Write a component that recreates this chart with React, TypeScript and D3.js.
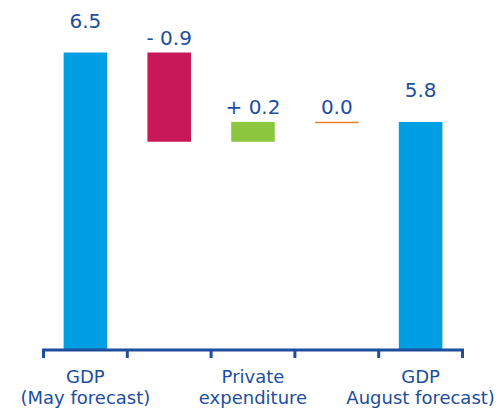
import React from "react";
import * as d3 from "d3";

const categories = ["c0", "c1", "c2", "c3", "c4"];
const categoryLabels: string[][] = [
  ["GDP", "(May forecast)"],
  [],
  ["Private", "expenditure"],
  [],
  ["GDP", "August forecast)"],
];
const values = [6.5, -0.9, 0.2, 0.0, 5.8];
const valueLabels = ["6.5", "- 0.9", "+ 0.2", "0.0", "5.8"];
const kinds = ["total", "delta", "delta", "delta", "total"];
const yDomain = [3.5, 6.5];

const W = 500;
const H = 414;
const BLUE = "#009FE3";
const RED = "#C8185A";
const GREEN = "#8CC63E";
const ORANGE = "#E8832A";
const TEXT = "#1C4E9C";
const AXIS = "#1F4E9E";

export default function App() {
  const x = d3.scaleBand<string>().domain(categories).range([43.5, 462.5]).padding(0);
  const y = d3.scaleLinear().domain(yDomain).range([350, 52.5]);
  const barW = x.bandwidth() * 0.52;

  let running = 0;
  const segs = values.map((v, i) => {
    if (kinds[i] === "total") {
      running = v;
      return { y0: yDomain[0], y1: v, v, i };
    }
    const start = running;
    running = start + v;
    return { y0: Math.min(start, running), y1: Math.max(start, running), v, i };
  });

  const fontFamily = "'DejaVu Sans', Verdana, sans-serif";

  return (
    <svg
      width={W}
      height={H}
      style={{ position: "absolute", left: 0, top: 0, background: "#fff" }}
    >
      {segs.map((s) => {
        const cx = (x(categories[s.i]) as number) + x.bandwidth() / 2;
        const top = y(s.y1);
        const bottom = y(s.y0);
        let fill = BLUE;
        if (kinds[s.i] === "delta") fill = s.v < 0 ? RED : GREEN;
        const labelOffset = kinds[s.i] === "total" ? 25 : 8;
        return (
          <g key={s.i}>
            {s.v === 0 && kinds[s.i] === "delta" ? (
              <line
                x1={cx - barW / 2}
                x2={cx + barW / 2}
                y1={top + 0.5}
                y2={top + 0.5}
                stroke={ORANGE}
                strokeWidth={1.5}
              />
            ) : (
              <rect x={cx - barW / 2} y={top} width={barW} height={bottom - top} fill={fill} />
            )}
            <text
              x={cx}
              y={top - labelOffset}
              textAnchor="middle"
              fontFamily={fontFamily}
              fontSize={20}
              fill={TEXT}
            >
              {valueLabels[s.i]}
            </text>
          </g>
        );
      })}

      <line x1={42} x2={464} y1={350} y2={350} stroke={AXIS} strokeWidth={3} />
      {[...categories.map((c) => x(c) as number), x.range()[1]].map((tx, i) => (
        <line key={i} x1={tx} x2={tx} y1={349} y2={358} stroke={AXIS} strokeWidth={3} />
      ))}

      {categoryLabels.map((lines, i) => {
        const cx = (x(categories[i]) as number) + x.bandwidth() / 2;
        return (
          <text
            key={i}
            textAnchor="middle"
            fontFamily={fontFamily}
            fontSize={18}
            fill={TEXT}
          >
            {lines.map((ln, j) => (
              <tspan key={j} x={cx} y={383 + j * 21}>
                {ln}
              </tspan>
            ))}
          </text>
        );
      })}
    </svg>
  );
}
